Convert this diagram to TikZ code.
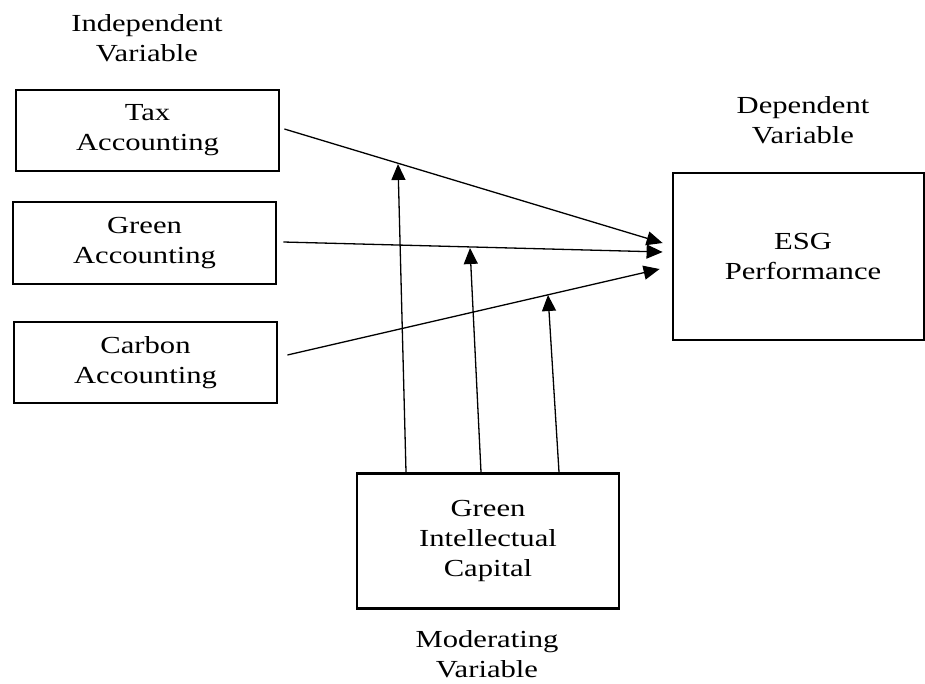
\documentclass[tikz,border=0pt]{standalone}
\usepackage{fontspec}
\setmainfont[FakeStretch=1.25]{Liberation Serif}
\usetikzlibrary{arrows.meta,calc}
\begin{document}
\begin{tikzpicture}[x=1pt,y=-1pt,
  txt/.style={align=center,font=\fontsize{24.5}{30}\selectfont,inner sep=0pt},
  varbox/.style={txt,draw,line width=2.8pt,minimum width=263pt,minimum height=81pt},
  conn/.style={line width=1.3pt,-{Triangle[length=16pt,width=14pt]}}]
\useasboundingbox (0,0) rectangle (925,683);
% labels
\node[txt] (indep) at (147,38) {Independent\\Variable};
\node[txt] (dep) at (803,120) {Dependent\\Variable};
\node[txt] (mod) at (487,654) {Moderating\\Variable};
% boxes
\node[varbox] (tax) at (147.5,130.5) {Tax\\Accounting};
\node[varbox,minimum height=82pt] (green) at (144.5,243) {Green\\Accounting};
\node[varbox] (carbon) at (145.5,362.5) {Carbon\\Accounting};
\node[varbox,minimum width=251pt,minimum height=167pt] (esg) at (798.5,256.5) {\hspace*{9pt}ESG\\\hspace*{9pt}Performance};
\node[varbox,minimum width=262pt,minimum height=135pt] (gic) at (488,541) {Green\\Intellectual\\Capital};
% connector end points
\coordinate (ta) at ($(tax.east)+(4,-1.5)$);
\coordinate (ga) at ($(green.east)+(6,-1)$);
\coordinate (ca) at ($(carbon.east)+(9,-7.5)$);
\coordinate (te) at ($(esg.west)+(-9,-13.5)$);
\coordinate (ge) at ($(esg.west)+(-9,-4.5)$);
\coordinate (ce) at ($(esg.west)+(-12,12.5)$);
\draw[conn] (ta) -- (te);
\draw[conn] (ga) -- (ge);
\draw[conn] (ca) -- (ce);
% moderating arrows
\coordinate (m1) at (398,164);
\coordinate (m2) at (470,248);
\coordinate (m3) at (548,295);
\draw[conn] (gic.north -| 406,0) -- (m1);
\draw[conn] (gic.north -| 481,0) -- (m2);
\draw[conn] (gic.north -| 559,0) -- (m3);
\end{tikzpicture}
\end{document}
